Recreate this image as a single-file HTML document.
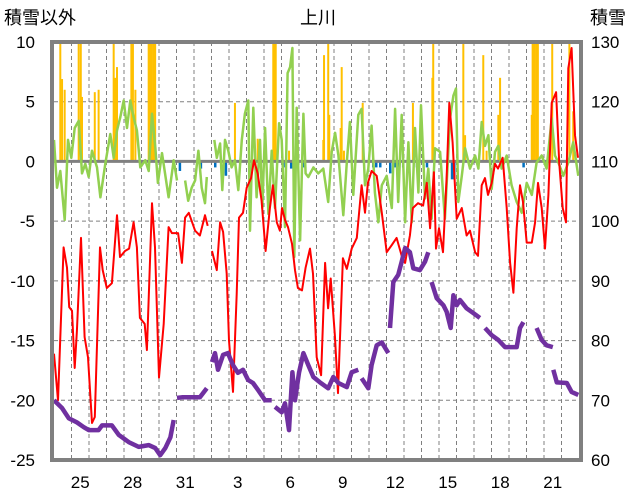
<!DOCTYPE html>
<html><head><meta charset="utf-8"><style>
html,body{margin:0;padding:0;background:#fff;}
svg{display:block;font-family:"Liberation Sans","Noto Sans CJK JP",sans-serif;}
</style></head><body>
<svg id="chart" width="636" height="501" viewBox="0 0 636 501" xmlns="http://www.w3.org/2000/svg">
<text x="4" y="24" font-size="18" fill="#000">積雪以外</text>
<text x="318" y="24" font-size="18" text-anchor="middle" fill="#000">上川</text>
<text x="590" y="24" font-size="18" fill="#000">積雪</text>
<g id="grid"></g>
<g id="bars"></g>
<g id="lines"></g>
<g id="axes"></g>
</svg>
<script>
const leftTicks=['10','5','0','-5','-10','-15','-20','-25'];
const rightTicks=['130','120','110','100','90','80','70','60'];
const xLabels=['25','28','31','3','6','9','12','15','18','21'];
const xLabelDays=[1,4,7,10,13,16,19,22,25,28];
const redT=[0,0.23,0.55,0.74,0.87,1.03,1.18,1.31,1.54,1.75,1.94,2.17,2.33,2.63,2.78,3.02,3.31,3.6,3.77,4.06,4.29,4.55,4.74,4.91,5.18,5.31,5.6,5.77,6.0,6.27,6.55,6.74,7.09,7.31,7.49,7.7,8.06,8.34,8.63,8.78,8.9,9.03,9.3,9.49,9.66,9.87,10.0,10.23,10.44,10.57,10.8,11.01,11.26,11.43,11.64,11.86,12.09,12.34,12.51,12.73,12.91,13.03,13.2,13.37,13.6,13.77,13.94,14.17,14.38,14.63,14.8,15.01,15.26,15.49,15.66,15.81,16.05,16.23,16.51,16.73,17.01,17.3,17.58,17.77,17.94,18.15,18.44,18.73,19.01,19.3,19.58,19.87,20.06,20.34,20.51,20.8,21.09,21.3,21.49,21.71,21.83,22.0,22.23,22.44,22.59,22.78,23.01,23.3,23.58,23.77,24.06,24.23,24.44,24.63,24.8,25.01,25.2,25.37,25.64,25.87,26.06,26.25,26.44,26.63,26.8,27.01,27.3,27.49,27.66,27.87,28.06,28.25,28.44,28.69,28.87,29.07,29.26,29.39,29.58,29.77,29.94];
const redV=[-16.1,-20.0,-7.2,-8.9,-12.2,-12.5,-17.3,-14.2,-6.4,-14.7,-16.4,-21.9,-21.4,-7.2,-9.1,-10.6,-10.2,-4.5,-8.0,-7.5,-7.3,-5.1,-7.2,-13.1,-13.6,-15.8,-3.5,-7.2,-18.1,-13.6,-5.5,-6.0,-6.0,-8.5,-4.7,-4.3,-5.8,-6.2,-4.5,-5.4,null,-7.5,-9.1,-5.1,-5.9,-9.4,-15.0,-19.3,-11.1,-4.7,-4.3,-2.2,-1.4,0.1,-1.0,-3.3,-7.5,-3.9,-2.0,-5.1,-5.8,-3.9,-4.9,-5.5,-6.9,-9.1,-10.6,-10.8,-8.9,-7.3,-9.4,-16.4,-17.9,-8.5,-12.3,-9.8,-14.6,-19.4,-8.1,-9.0,-7.3,-6.4,-2.0,-4.3,-1.8,-0.8,-1.2,-4.3,-7.6,-7.0,-6.4,-7.9,-8.5,-6.2,-3.9,-3.5,-3.7,-1.8,-5.6,-0.9,-7.3,-5.6,-7.6,-1.2,4.9,1.6,-4.8,-3.9,-6.2,-5.8,-7.6,-7.9,-2.0,-1.4,-2.8,-1.8,-0.2,-0.6,0.3,-3.9,-8.5,-11.0,-5.6,-2.0,-3.4,-6.8,-6.8,-5.1,-1.8,-3.9,-7.3,-2.8,4.9,5.8,-0.1,-3.9,-5.1,7.8,9.5,2.2,0.3];
const greenT=[0,0.17,0.36,0.61,0.8,0.99,1.18,1.41,1.6,1.79,1.98,2.17,2.46,2.65,2.93,3.22,3.41,3.6,3.79,3.98,4.17,4.36,4.55,4.74,4.93,5.22,5.41,5.6,5.79,5.94,6.17,6.55,6.84,7.03,7.2,7.49,7.67,7.87,8.06,8.25,8.44,8.63,8.73,8.9,9.16,9.3,9.49,9.62,9.77,9.96,10.15,10.34,10.53,10.73,10.91,11.1,11.2,11.39,11.58,11.77,11.9,12.06,12.25,12.44,12.63,12.86,13.01,13.2,13.35,13.49,13.62,13.73,13.87,14.06,14.25,14.38,14.53,14.82,15.1,15.39,15.67,15.87,16.06,16.25,16.53,16.73,16.91,17.1,17.39,17.58,17.77,17.96,18.15,18.34,18.53,18.73,19.01,19.3,19.49,19.67,19.87,20.06,20.25,20.44,20.63,20.82,20.97,21.2,21.39,21.58,21.77,22.06,22.34,22.63,22.82,22.97,23.1,23.3,23.49,23.77,24.06,24.25,24.44,24.63,24.82,25.01,25.2,25.39,25.58,25.87,26.15,26.44,26.73,27.01,27.3,27.58,27.87,28.15,28.44,28.63,28.82,29.1,29.39,29.67,29.96];
const greenV=[1.8,-2.2,-0.8,-4.9,1.8,0.3,2.8,3.4,-1.0,-0.2,-1.3,0.9,-0.5,-3.0,-0.2,2.3,0.3,2.6,3.7,5.1,2.8,5.1,3.7,2.6,-0.5,0.1,-0.8,4.0,1.2,-1.8,0.7,-3.0,0.1,-1.6,null,-1.6,-3.3,-2.2,-1.6,0.9,-2.2,-3.5,-1.3,null,1.8,0.3,1.5,-2.4,1.8,0.9,-0.5,0.1,-2.4,1.8,4.0,5.1,-5.8,4.5,-3.0,1.8,-3.9,2.8,-4.4,0.9,-3.9,3.2,1.8,-5.5,7.4,7.9,9.5,-8.0,4.5,-6.6,4.0,-1.0,-1.3,-0.5,-1.0,-0.6,-3.4,0.8,2.4,0.5,-4.5,-0.1,3.3,-2.8,3.9,4.4,-2.0,-0.6,3.0,-2.6,-5.1,-2.0,-1.2,-3.9,4.4,-3.4,3.9,-5.1,1.6,-5.1,2.8,-2.6,4.7,-3.1,-0.6,-4.8,1.1,0.8,-4.8,3.6,5.5,6.1,-3.4,-1.2,1.1,-0.6,0.5,-0.6,3.3,1.3,2.2,-2.3,0.8,1.3,-0.6,0.5,-2.0,-3.4,-4.3,-1.8,-2.8,-0.1,0.5,-0.6,3.6,0.5,-0.1,-1.2,-0.1,1.6,-1.2];
const snowT=[0,0.46,0.84,1.31,1.7,1.98,2.55,2.74,3.31,3.7,4.27,4.84,5.41,5.79,6.07,6.36,6.65,6.84,6.9,7.03,7.31,7.89,8.34,8.73,8.9,9.03,9.2,9.37,9.66,9.94,10.23,10.51,10.8,11.09,11.37,11.66,12.06,12.44,12.5,12.63,13.01,13.2,13.43,13.62,13.77,14.0,14.25,14.53,14.82,15.2,15.67,15.96,16.25,16.73,17.01,17.39,17.45,17.58,17.96,18.15,18.44,18.73,19.1,19.15,19.2,19.39,19.67,19.87,20.06,20.34,20.53,20.91,21.2,21.39,21.45,21.58,21.87,22.25,22.44,22.67,22.82,23.01,23.2,23.58,23.96,24.34,24.5,24.63,25.01,25.39,25.77,26.44,26.63,26.82,27.2,27.58,27.87,28.15,28.5,28.51,28.53,28.73,29.3,29.58,29.96];
const snowV=[70.0,68.7,67.0,66.3,65.5,65.0,65.0,65.8,65.8,64.2,63.0,62.2,62.5,62.0,60.8,62.0,63.8,66.7,null,70.4,70.5,70.5,70.5,72.0,null,76.4,77.9,75.1,77.6,77.9,75.9,74.6,75.1,73.4,72.9,71.7,70.0,70.0,null,68.9,68.0,69.5,65.0,74.7,70.0,74.6,77.9,75.9,73.9,73.0,72.0,73.9,72.9,72.2,74.7,75.1,null,73.7,72.0,75.9,79.2,79.7,77.9,null,82.1,89.8,91.0,93.2,95.5,94.8,92.1,91.8,93.2,94.8,null,89.8,87.1,85.9,84.8,82.1,87.6,85.9,86.8,85.4,84.6,83.8,null,82.1,80.9,80.1,78.9,78.9,82.1,83.1,null,82.1,80.1,79.2,78.9,null,75.1,73.0,72.9,71.4,70.9];
const snowfallT=[0.36,0.46,0.61,1.41,1.53,1.6,2.33,2.55,3.41,3.5,3.6,4.42,4.51,4.65,5.41,5.5,5.59,5.69,5.78,10.34,11.64,12.53,12.6,12.67,13.43,15.39,15.43,15.67,15.73,16.38,16.44,16.57,17.64,20.51,21.62,21.67,23.39,23.49,24.53,24.72,25.39,25.49,27.3,27.35,27.45,27.55,27.65,28.47,29.45,29.67];
const snowfallV=[10,6.9,6.0,10,10,5.4,5.8,6.0,10,7,7.9,10,10,6,10,10,10,10,10,4.9,1.9,10,10,10,0.9,1.8,8.9,10,3.9,2.8,7.9,0.9,4.9,4.9,7,10,10,2.2,8.9,0.9,3.9,7,3.9,10,10,10,10,10,10,4.2];
const rainT=[7.18,8.38,9.2,9.81,13.1,13.54,14.25,18.23,18.4,18.63,19.2,19.49,19.66,19.94,20.73,21.3,22.73,22.86,26.82];
const rainV=[-0.8,-0.6,-0.5,-1.2,-0.5,-0.6,-0.5,-0.5,-0.5,-0.5,-1.0,-0.5,-0.5,-0.5,-0.5,-0.5,-1.5,-1.5,-0.5];

const NS='http://www.w3.org/2000/svg';
const X0=54,X1=579,Y0=42,Y1=460,DAYS=30;
const xs=t=>X0+t*(X1-X0)/DAYS;
const yl=v=>Y0+(10-v)*(Y1-Y0)/35;
const yr=v=>Y0+(130-v)*(Y1-Y0)/70;
function mk(tag,attrs,parent){const e=document.createElementNS(NS,tag);for(const k in attrs)e.setAttribute(k,attrs[k]);parent.appendChild(e);return e;}
const grid=document.getElementById('grid'),bars=document.getElementById('bars'),lines=document.getElementById('lines'),axes=document.getElementById('axes');
for(let i=1;i<DAYS;i++){const l=mk('line',{x1:xs(i),x2:xs(i),y1:Y0,y2:Y1,stroke:'#808080','stroke-width':1,'stroke-dasharray':'4,3'},grid);

}
leftTicks.forEach((s,i)=>{const v=10-5*i;const y=yl(v);
if(i>0&&i<leftTicks.length-1){const g=mk('line',{x1:X0,x2:X1,y1:y,y2:y,stroke:'#808080','stroke-width':1,'stroke-dasharray':'4,3'},grid);

}
const t=mk('text',{x:35,y:y+6,'font-size':17,'text-anchor':'end',fill:'#000'},axes);t.textContent=s;

});
rightTicks.forEach((s,i)=>{const v=130-10*i;const t=mk('text',{x:591,y:yr(v)+6,'font-size':17,fill:'#000'},axes);t.textContent=s;

});
xLabels.forEach((s,i)=>{const t=mk('text',{x:xs(xLabelDays[i]+0.5),y:488,'font-size':17,'text-anchor':'middle',fill:'#000'},axes);t.textContent=s;

});
snowfallT.forEach((t,i)=>{const v=Math.min(snowfallV[i],10);const r=mk('rect',{x:xs(t)-1,y:yl(v),width:2,height:yl(0)-yl(v),fill:'#FFC000'},bars);

});
rainT.forEach((t,i)=>{const r=mk('rect',{x:xs(t)-1,y:yl(0),width:2.5,height:yl(rainV[i])-yl(0),fill:'#0070C0'},bars);

});
const zl=mk('line',{x1:X0,x2:X1,y1:yl(0),y2:yl(0),stroke:'#808080','stroke-width':3},bars);


function pathOf(T,V,yf){let d='',pen=false;T.forEach((t,i)=>{const v=V[i];if(v===null){pen=false;return;}d+=(pen?'L':'M')+xs(t).toFixed(1)+' '+yf(v).toFixed(1)+' ';pen=true;});return d;}
const g1=mk('path',{d:pathOf(greenT,greenV,yl),fill:'none',stroke:'#92D050','stroke-width':2.5,'stroke-linejoin':'round'},lines);


const r1=mk('path',{d:pathOf(redT,redV,yl),fill:'none',stroke:'#FF0000','stroke-width':2,'stroke-linejoin':'round'},lines);


const p1=mk('path',{d:pathOf(snowT,snowV,yr),fill:'none',stroke:'#7030A0','stroke-width':4.5,'stroke-linejoin':'round'},lines);


const fr=mk('rect',{x:X0-2,y:Y0,width:X1-X0+4,height:Y1-Y0,fill:'none',stroke:'#808080','stroke-width':4},axes);


</script>
</body></html>
